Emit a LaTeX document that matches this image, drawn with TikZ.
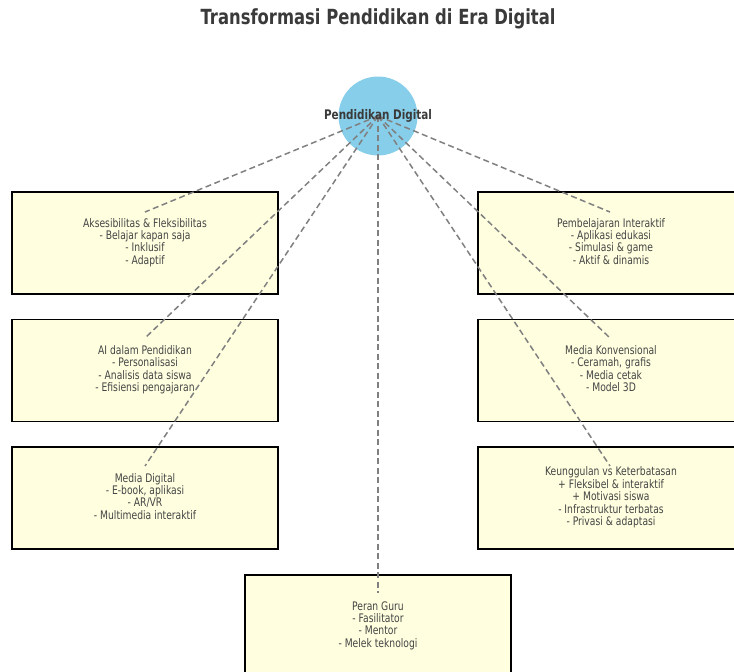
\documentclass[tikz,border=0pt]{standalone}
\usepackage{fontspec}
\usepackage{graphicx}
\setmainfont{DejaVu Sans}
\definecolor{boxfill}{HTML}{FFFFE0}
\definecolor{sky}{HTML}{87CEEB}
\definecolor{txt}{HTML}{3A3A3A}
\definecolor{boxtxt}{HTML}{444444}
\newcommand{\vtall}[1]{\scalebox{1}[1.28]{\begin{tabular}{@{}c@{}}#1\end{tabular}}}
\tikzset{
  infobox/.style={draw=black, line width=1.2pt, fill=boxfill, minimum width=266pt, minimum height=102pt, inner sep=0pt, font=\fontsize{9.2}{9.14}\selectfont, text=boxtxt},
  link/.style={draw=gray, line width=1.5pt, dash pattern=on 6pt off 3.5pt},
}
\begin{document}
\begin{tikzpicture}[x=1pt,y=-1pt]
\useasboundingbox (0,0) rectangle (734,672);
\clip (0,0) rectangle (734,672);
\node[font=\bfseries\fontsize{16.4}{18}\selectfont, text=txt] (title) at (378,19) {\scalebox{1}[1.27]{Transformasi Pendidikan di Era Digital}};
\node[infobox] (l1) at (145,243) {\vtall{Aksesibilitas \& Fleksibilitas\\- Belajar kapan saja\\- Inklusif\\- Adaptif}};
\node[infobox] (l2) at (145,370.5) {\vtall{AI dalam Pendidikan\\- Personalisasi\\- Analisis data siswa\\- Efisiensi pengajaran}};
\node[infobox] (l3) at (145,498) {\vtall{Media Digital\\- E-book, aplikasi\\- AR/VR\\- Multimedia interaktif}};
\node[infobox] (r1) at (611,243) {\vtall{Pembelajaran Interaktif\\- Aplikasi edukasi\\- Simulasi \& game\\- Aktif \& dinamis}};
\node[infobox] (r2) at (611,370.5) {\vtall{Media Konvensional\\- Ceramah, grafis\\- Media cetak\\- Model 3D}};
\node[infobox] (r3) at (611,498) {\vtall{Keunggulan vs Keterbatasan\\+ Fleksibel \& interaktif\\+ Motivasi siswa\\- Infrastruktur terbatas\\- Privasi \& adaptasi}};
\node[infobox] (b) at (378,626) {\vtall{Peran Guru\\- Fasilitator\\- Mentor\\- Melek teknologi}};
\node[circle, fill=sky, minimum size=79pt, inner sep=0pt] (c) at (378,116) {};
\coordinate (e1) at (145,212);
\coordinate (e2) at (145,338);
\coordinate (e3) at (145,466);
\coordinate (e4) at (610,212);
\coordinate (e5) at (610,338);
\coordinate (e6) at (610,466);
\coordinate (e7) at (378,593);
\foreach \e in {e1,e2,e3,e4,e5,e6,e7}{\draw[link] (c.center) -- (\e);}
\node[font=\bfseries\fontsize{10.4}{12}\selectfont, text=txt] (clabel) at (c.center) {\scalebox{1}[1.27]{Pendidikan Digital}};
\end{tikzpicture}
\end{document}
